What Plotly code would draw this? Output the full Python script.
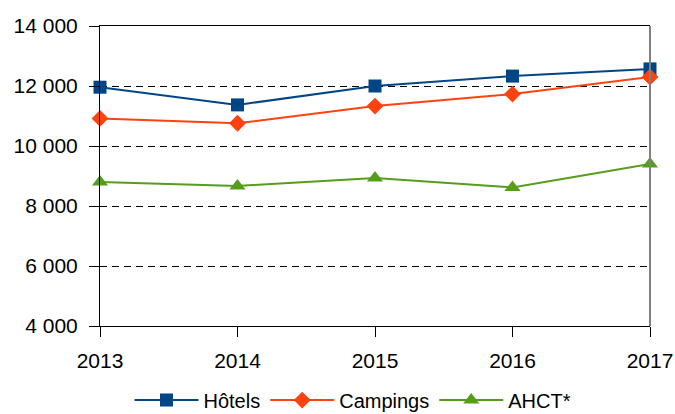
import plotly.graph_objects as go

years = [2013, 2014, 2015, 2016, 2017]
hotels = [11960, 11370, 12000, 12330, 12570]
campings = [10920, 10760, 11330, 11730, 12300]
ahct = [8800, 8670, 8930, 8620, 9400]

series = [
    ("Hôtels", hotels, "#004586", "square", 13),
    ("Campings", campings, "#ff420e", "diamond", 13),
    ("AHCT*", ahct, "#579d1c", "triangle-up", 14),
]

fig = go.Figure()
for name, vals, col, sym, sz in series:
    fig.add_trace(go.Scatter(
        x=years, y=vals, name=name, mode="lines+markers",
        line=dict(color=col, width=2),
        marker=dict(symbol=sym, size=sz, color=col),
        cliponaxis=False,
    ))

tf = dict(family="Liberation Sans", size=21, color="#000000")

fig.update_layout(
    width=675, height=414,
    margin=dict(l=100, r=25, t=26, b=88, autoexpand=False),
    paper_bgcolor="white", plot_bgcolor="white",
    font=tf,
    showlegend=True,
    legend=dict(orientation="h", x=0.46, xanchor="center", y=-0.247, yanchor="middle",
                font=dict(family="Liberation Sans", size=20, color="#000000"),
                itemwidth=64, tracegroupgap=0),
)
fig.update_xaxes(
    range=[2013, 2017], tickvals=years, ticktext=[str(y) for y in years],
    showline=True, linecolor="black", linewidth=1, mirror=True,
    ticks="outside", ticklen=10, tickcolor="black",
    showgrid=False, zeroline=False, ticklabelstandoff=6, tickfont=tf,
    ticklabeloverflow="allow", automargin=False,
)
fig.update_yaxes(
    range=[4000, 14000], tickvals=[4000, 6000, 8000, 10000, 12000, 14000],
    ticktext=["4 000", "6 000", "8 000", "10 000", "12 000", "14 000"],
    showline=True, linecolor="black", linewidth=1,
    ticks="outside", ticklen=10, tickcolor="black",
    showgrid=True, gridcolor="black", gridwidth=1, griddash="7px,5px",
    zeroline=False, ticklabelstandoff=7, tickfont=tf, automargin=False,
)
fig.add_shape(type="line", xref="x domain", yref="y domain", x0=1, x1=1, y0=0, y1=1,
              line=dict(color="#808080", width=2))

fig.write_html("out.html", config={"displayModeBar": False},
               post_script="document.body.style.margin='0px';")
